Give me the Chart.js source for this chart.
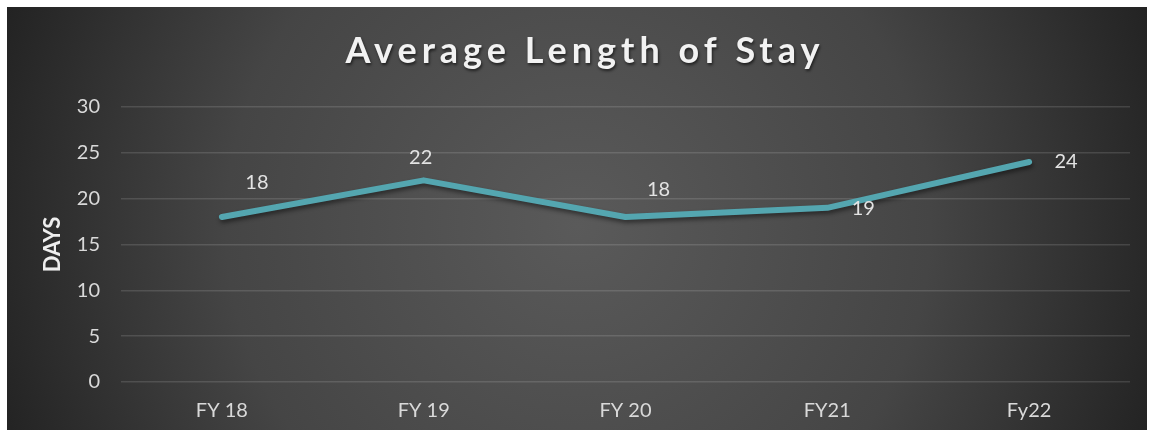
<!DOCTYPE html>
<html>
<head>
<meta charset="utf-8">
<script src="https://cdn.jsdelivr.net/npm/chart.js@4"></script>
<style>
    html, body { margin: 0; padding: 0; background: #ffffff; }
    #wrap { width: 1151px; height: 434px; position: relative; }
</style>
</head>
<body>
<div id="wrap"><canvas id="chart_stay"></canvas></div>
<script>
const CHART_TITLE = 'Average Length of Stay';
const YEARS = ['FY 18', 'FY 19', 'FY 20', 'FY21', 'Fy22'];
const STAY_DAYS = [18, 22, 18, 19, 24];
const Y_AXIS_TITLE = 'DAYS';

const FONT = "Lato, 'DejaVu Sans', sans-serif";
const LINE_COLOR = '#54a6b0';

// label offsets from each point, picked to match where the original put them
const LABEL_OFFSETS = [[35, -34], [-3, -23], [33, -27], [36, 1], [37, 0]];

var backgroundPlugin = {
    id: 'stayBackground',
    beforeDraw(chart) {
        var ctx = chart.ctx;
        ctx.save();
        ctx.fillStyle = '#ffffff';
        ctx.fillRect(0, 0, chart.width, chart.height);
        var grad = ctx.createRadialGradient(578, 225, 0, 578, 225, 640);
        grad.addColorStop(0, '#5a5a5a');
        grad.addColorStop(0.55, '#454545');
        grad.addColorStop(1, '#1f1f1f');
        ctx.fillStyle = grad;
        ctx.fillRect(7, 7, 1140, 423);

        // title, with the wide tracking of the original
        ctx.font = 'bold 36px ' + FONT;
        ctx.letterSpacing = '5px';
        ctx.textAlign = 'center';
        ctx.textBaseline = 'middle';
        ctx.fillStyle = '#f2f2f2';
        ctx.shadowColor = 'rgba(0,0,0,0.6)';
        ctx.shadowOffsetX = 1;
        ctx.shadowOffsetY = 2;
        ctx.shadowBlur = 3;
        ctx.fillText(CHART_TITLE, 585, 51);
        ctx.restore();
    },
    beforeDatasetDraw(chart) {
        var ctx = chart.ctx;
        ctx.save();
        ctx.shadowColor = 'rgba(0,0,0,0.45)';
        ctx.shadowOffsetX = 1;
        ctx.shadowOffsetY = 3;
        ctx.shadowBlur = 4;
    },
    afterDatasetDraw(chart) {
        chart.ctx.restore();
    },
    afterDatasetsDraw(chart) {
        var ctx = chart.ctx;
        var meta = chart.getDatasetMeta(0);
        ctx.save();
        ctx.font = '20px ' + FONT;
        ctx.fillStyle = '#e3e3e3';
        ctx.textAlign = 'center';
        ctx.textBaseline = 'middle';
        meta.data.forEach(function (pt, i) {
            var off = LABEL_OFFSETS[i];
            ctx.fillText(String(STAY_DAYS[i]), pt.x + off[0], pt.y + off[1]);
        });
        ctx.restore();
    }
};

var ctx = document.getElementById('chart_stay');
var stayChart = new Chart(ctx, {
    type: 'line',
    data: {
        labels: YEARS,
        datasets: [{
            label: 'Days',
            data: STAY_DAYS,
            borderColor: LINE_COLOR,
            borderWidth: 6,
            borderCapStyle: 'round',
            borderJoinStyle: 'round',
            pointRadius: 0,
            pointHoverRadius: 0,
            tension: 0,
            fill: false
        }]
    },
    options: {
        responsive: true,
        maintainAspectRatio: false,
        animation: false,
        layout: { padding: { top: 107, left: 7, right: 21, bottom: 0 } },
        plugins: {
            legend: { display: false },
            tooltip: { enabled: false },
            title: { display: false }
        },
        scales: {
            x: {
                offset: true,
                grid: { display: false, drawTicks: false },
                border: { display: false },
                ticks: {
                    color: '#d9d9d9',
                    padding: 17,
                    font: { family: FONT, size: 20 }
                },
                afterFit(scale) { scale.height = 52; }
            },
            y: {
                min: 0,
                max: 30,
                ticks: {
                    stepSize: 5,
                    color: '#d9d9d9',
                    padding: 21,
                    font: { family: FONT, size: 20 }
                },
                grid: { color: 'rgba(255,255,255,0.13)', lineWidth: 1.5, drawTicks: false },
                border: { display: false },
                title: {
                    display: true,
                    text: Y_AXIS_TITLE,
                    color: '#eeeeee',
                    padding: { top: 33, bottom: 0 },
                    font: { family: FONT, size: 22, weight: 'bold' }
                },
                afterFit(scale) { scale.width = 114; }
            }
        }
    },
    plugins: [backgroundPlugin]
});
</script>
</body>
</html>
